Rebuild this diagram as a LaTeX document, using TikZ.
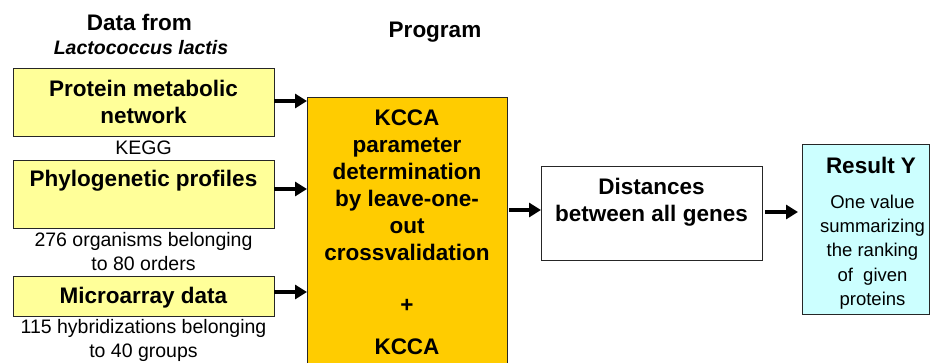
\documentclass[tikz,border=0pt]{standalone}
\usepackage{fontspec}
\setmainfont{Liberation Sans}
\usetikzlibrary{arrows.meta}
\definecolor{boxyellow}{HTML}{FFFF99}
\definecolor{kccaorange}{HTML}{FFCC00}
\definecolor{resultcyan}{HTML}{CCFFFF}
\begin{document}
\begin{tikzpicture}[x=1pt,y=-1pt,
  box/.style={draw=black!85,line width=1pt,inner sep=0pt,outer sep=0pt},
  bigtxt/.style={font=\fontsize{22.5}{27}\selectfont\bfseries,align=center,inner sep=0pt},
  smalltxt/.style={font=\fontsize{19.5}{24}\selectfont,align=center,inner sep=0pt},
  restxt/.style={font=\fontsize{18.5}{24.25}\selectfont,align=center,inner sep=0pt},
  arr/.style={line width=3.5pt,-{Triangle[length=12pt,width=14pt]}}
]
\useasboundingbox (0,0) rectangle (931,362);
\clip (0,0) rectangle (931,362);
\fill[white] (0,0) rectangle (931,362);

% headers
\node[bigtxt,anchor=base] (hdata) at (139.5,30) {Data from};
\node[font=\fontsize{19.5}{24}\selectfont\bfseries\itshape,inner sep=0pt,anchor=base] (hlac) at (141,54) {Lactococcus lactis};
\node[bigtxt,anchor=base] (hprog) at (435,37.3) {Program};

% input boxes
\node[box,fill=boxyellow,minimum width=261pt,minimum height=68pt] (b1) at (143.5,102) {};
\node[bigtxt] (t1) at (143.5,102.3) {Protein metabolic\\network};
\node[smalltxt] (l1) at (143.5,148) {KEGG};

\node[box,fill=boxyellow,minimum width=261pt,minimum height=68pt] (b2) at (143.5,194) {};
\node[bigtxt] (t2) at (143.5,181.2) {Phylogenetic profiles};
\node[smalltxt] (l2) at (143.5,251.8) {276 organisms belonging\\to 80 orders};

\node[box,fill=boxyellow,minimum width=261pt,minimum height=40pt] (b3) at (143.5,296) {};
\node[bigtxt] (t3) at (143.5,297.2) {Microarray data};
\node[smalltxt] (l3) at (143.5,340.7) {115 hybridizations belonging\\to 40 groups};

% KCCA box
\node[box,fill=kccaorange,minimum width=200pt,minimum height=280pt,anchor=north west] (kcca) at (307,97) {};
\node[bigtxt] (k1) at (407,185.5) {KCCA\\parameter\\determination\\by leave-one-\\out\\crossvalidation};
\node[bigtxt,anchor=base] (kplus) at (407,312) {+};
\node[bigtxt,anchor=base] (k2) at (407,354) {KCCA};

% distances
\node[box,fill=white,minimum width=221pt,minimum height=94pt] (dist) at (651.5,213) {};
\node[bigtxt] (dtxt) at (651.5,201.8) {Distances\\between all genes};

% result
\node[box,fill=resultcyan,minimum width=127pt,minimum height=170pt] (res) at (865.5,229) {};
\node[bigtxt,anchor=base] (rtitle) at (871,173) {Result Y};
\node[restxt] (rtxt) at (872.5,252) {One value\\summarizing\\the ranking\\of\ \ given\\proteins};

% arrows
\draw[arr] ([yshift=1pt]b1.east) -- ([yshift=1pt]b1.east -| kcca.west);
\draw[arr] ([yshift=5pt]b2.east) -- ([yshift=5pt]b2.east -| kcca.west);
\draw[arr] ([yshift=4pt]b3.east) -- ([yshift=4pt]b3.east -| kcca.west);
\draw[arr,shorten <=2pt] ([yshift=3pt]dist.west -| kcca.east) -- ([yshift=3pt]dist.west);
\draw[arr,shorten <=3pt,shorten >=4pt] ([yshift=1pt]dist.east) -- ([yshift=1pt]dist.east -| res.west);
\end{tikzpicture}
\end{document}
